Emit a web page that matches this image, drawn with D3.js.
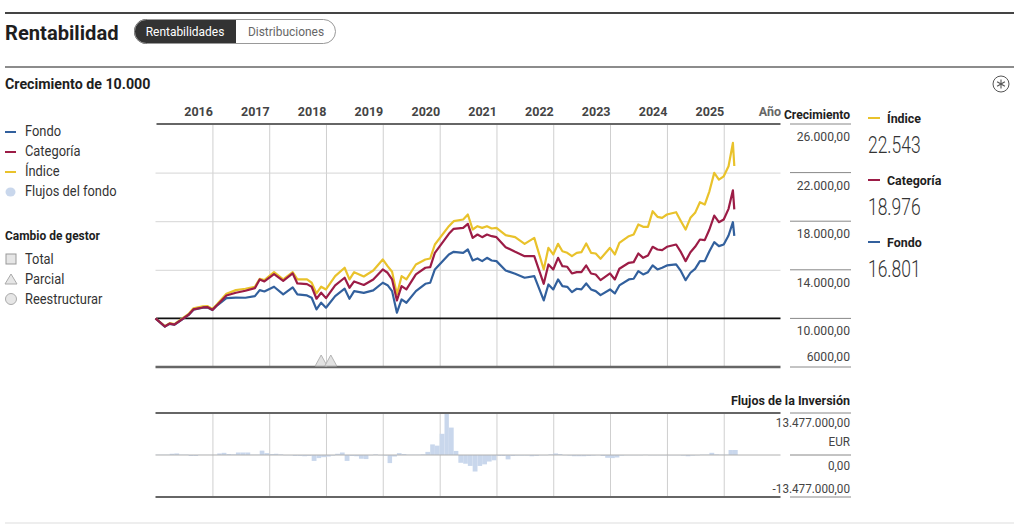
<!DOCTYPE html>
<html>
<head>
<meta charset="utf-8">
<script src="https://cdn.jsdelivr.net/npm/d3@7"></script>
<style>
  body { margin: 0; background: #fff; }
  svg text { font-family: Roboto, "Noto Sans", sans-serif; }
</style>
</head>
<body>
<svg id="chart" width="1024" height="529"></svg>
<script>
// ---- data ----
const months = [
  "2016-01","2016-03","2016-04","2016-05","2016-06","2016-08","2016-09","2016-11","2016-12",
  "2017-01","2017-02","2017-04","2017-06","2017-08","2017-10","2017-11","2017-12",
  "2018-02","2018-04","2018-06","2018-07","2018-09","2018-10","2018-11","2018-12",
  "2019-01","2019-03","2019-05","2019-06","2019-07","2019-09","2019-11",
  "2020-01","2020-02","2020-03","2020-04","2020-05","2020-06","2020-08","2020-10","2020-11","2020-12",
  "2021-03","2021-04","2021-06","2021-07","2021-08","2021-09","2021-10","2021-11","2021-12",
  "2022-01","2022-03","2022-05","2022-07","2022-09","2022-11","2022-12",
  "2023-01","2023-02","2023-03","2023-04","2023-05","2023-06","2023-07","2023-08","2023-09","2023-10","2023-11",
  "2024-01","2024-02","2024-03","2024-05","2024-06","2024-07","2024-08","2024-09","2024-10","2024-11","2024-12",
  "2025-01","2025-03","2025-04","2025-05","2025-06","2025-07","2025-08","2025-09","2025-10","2025-11","2025-12",
  "2026-01","2026-02","2026-03","2026-03-10"
];

const indice = [
  10000, 9360, 9610, 9530, 9810, 10370, 10830, 10990, 11010,
  10770, 11190, 12030, 12326, 12441, 12606, 13263, 13148,
  13806, 13206, 13806, 13206, 13206, 12935, 12055, 12606,
  12384, 13477, 14167, 13206, 13806, 13450, 13946,
  14850, 14300, 13839, 11973, 13477, 13206, 14439, 14850, 14932, 16083,
  17590, 18000, 18138, 18549, 17316, 17590, 17453, 17590, 17398,
  17453, 16850, 16686, 16138, 16630, 14028, 15809,
  15261, 16138, 15532, 15398, 15124, 15398, 15450, 16165, 15398, 15343, 14907,
  15809, 15261, 16220, 16768, 16905, 17727, 17538, 17538, 18820, 18360, 18278,
  18549, 18738, 18000, 17316, 18278, 18688, 19560, 19371, 20464, 21977, 21426,
  21696, 22519, 24442, 22543
];

const categoria = [
  10000, 9330, 9570, 9490, 9760, 10300, 10740, 10900, 10920,
  10700, 11100, 11890, 12113, 12277, 12490, 13206, 13041,
  13641, 13096, 13699, 12877, 12820, 12606, 11619, 12113,
  11669, 12713, 13345, 12523, 13041, 12750, 13206,
  14028, 13756, 13206, 11480, 12658, 12384, 13617, 14167, 14220, 15398,
  16960, 17373, 17455, 17784, 16630, 16905, 16686, 16905, 16768,
  16686, 15864, 15480, 15124, 15124, 12850, 14439,
  14028, 14987, 14300, 14250, 13699, 13806, 13806, 14357, 13699, 13617, 13148,
  13699, 13206, 14083, 14577, 14632, 15343, 14987, 15179, 15894, 15672, 15617,
  15894, 16083, 15450, 14713, 15450, 15894, 16494, 16439, 17316, 18467, 17918,
  18138, 19017, 20546, 18976
];

const fondo = [
  10000, 9320, 9555, 9480, 9745, 10285, 10720, 10880, 10900,
  10690, 11080, 11669, 11702, 11700, 11833, 12326, 12219,
  12606, 11973, 12548, 11973, 11891, 11702, 10740, 11290,
  10880, 11833, 12441, 11619, 12244, 12100, 12302,
  12935, 12737, 12244, 10466, 11562, 11290, 12244, 12850, 12935, 14028,
  15261, 15480, 15398, 15672, 14768, 14932, 14713, 14987, 14768,
  14713, 13946, 13672, 13345, 13477, 11480, 12795,
  12384, 13206, 12658, 12600, 12163, 12441, 12384, 12877, 12384, 12244, 11915,
  12384, 12055, 12713, 13206, 13263, 13888, 13617, 13806, 14357, 14028, 14167,
  14357, 14439, 13888, 13148, 13756, 14083, 14713, 14713, 15532, 16275, 15946,
  16083, 16823, 17918, 16801
];

// monthly fund flows, millions of EUR, starting 2016-01
const flowStart = "2016-01";
const flows = [
  0.1, 0.1, 0.1, 0.4, 0.5, 0.1, 0.1, -0.3, -0.3, 0.05, 0.05, 0.05,
  0.05, 0.5, 0.7, 0.3, 0.2, 0.8, 0.8, 0.8, 0.1, 0.1, 1.4, 0.6,
  0.3, 0.4, 0.2, -0.1, -0.1, -0.3, -0.3, -0.4, -0.3, -1.9, -1.0, -0.7,
  -0.5, -0.2, 0.4, 0.8, -1.9, -0.3, -0.4, -1.2, -1.3, -0.1, 0.2, -0.1,
  -0.2, -2.6, -0.5, 0.6, 0.3, 0.1, 0.1, 0.1, 0.2, 1.0, 3.4, 3.0,
  6.8, 13.477, 8.8, 1.3, -2.5, -2.8, -3.5, -5.3, -3.5, -3.0, -2.1, -1.7,
  -0.3, -0.3, -1.4, -0.3, -0.2, -0.2, -0.2, -0.4, -0.3, -0.1, -0.1, 0.2,
  0.5, 0.3, -0.1, -0.2, -0.4, -0.4, -0.4, -0.3, -0.2, -0.1, -0.3, -0.9,
  -1.0, -0.8, -0.2, -0.1, -0.1, -0.1, -0.1, 0.05, -0.1, -0.1, -0.1, -0.1,
  -0.1, -0.1, -0.1, -0.2, -0.4, -0.2, -0.1, 0.1, 0.1, 0.7, 0.2, 0.1,
  0.1, 1.6, 1.6
];
const flowMax = 13.477;

const managerChanges = ["2018-12", "2019-02"];
const years = [2016, 2017, 2018, 2019, 2020, 2021, 2022, 2023, 2024, 2025];
const yTicks = [26000, 22000, 18000, 14000, 10000, 6000];
const yTickLabels = ["26.000,00", "22.000,00", "18.000,00", "14.000,00", "10.000,00", "6000,00"];
const flowLabels = ["13.477.000,00", "EUR", "0,00", "-13.477.000,00"];

const colors = { indice: "#e9c22b", categoria: "#9c1c46", fondo: "#32609d", flujos: "#c9d7ec" };

// ---- helpers ----
const parseMonth = d3.timeParse("%Y-%m");
const parseDay = d3.timeParse("%Y-%m-%d");
const parseDate = s => parseDay(s) || parseMonth(s);
const es = d3.formatLocale({ decimal: ",", thousands: ".", grouping: [3], currency: ["", "€"] });
const fmtInt = es.format(",.0f");

const svg = d3.select("#chart");

function label(g, x, y, str, o = {}) {
  const t = g.append("text")
    .attr("x", x).attr("y", y)
    .attr("font-size", o.size || 13)
    .attr("font-weight", o.weight || 400)
    .attr("fill", o.fill || "#333")
    .attr("text-anchor", o.anchor || "start")
    .text(str);
  if (o.sx) {
    t.attr("x", 0).attr("y", 0).attr("transform", `translate(${x},${y}) scale(${o.sx},1)`);
  }
  return t;
}

// ---- header ----
svg.append("line").attr("x1", 5).attr("x2", 1014).attr("y1", 13).attr("y2", 13)
  .attr("stroke", "#444").attr("stroke-width", 2);
label(svg, 5, 40, "Rentabilidad", { size: 21, weight: 700, fill: "#1e1e1e", sx: 0.96 });

const pill = svg.append("g");
svg.append("clipPath").attr("id", "pillClip")
  .append("rect").attr("x", 134).attr("y", 19).attr("width", 202).attr("height", 25).attr("rx", 12.5);
pill.append("rect").attr("x", 134).attr("y", 19).attr("width", 102).attr("height", 25)
  .attr("fill", "#333").attr("clip-path", "url(#pillClip)");
pill.append("rect").attr("x", 134.5).attr("y", 19.5).attr("width", 201).attr("height", 24).attr("rx", 12)
  .attr("fill", "none").attr("stroke", "#999");
label(pill, 185, 36, "Rentabilidades", { size: 13, fill: "#fff", anchor: "middle", sx: 0.92 });
label(pill, 286, 36, "Distribuciones", { size: 13, fill: "#666", anchor: "middle", sx: 0.92 });

svg.append("line").attr("x1", 5).attr("x2", 1014).attr("y1", 67).attr("y2", 67)
  .attr("stroke", "#666").attr("stroke-width", 1.5);
label(svg, 5, 89, "Crecimiento de 10.000", { size: 15, weight: 700, fill: "#1e1e1e", sx: 0.95 });

// settings icon
const icon = svg.append("g").attr("transform", "translate(1001,84)");
icon.append("circle").attr("r", 8).attr("fill", "none").attr("stroke", "#555").attr("stroke-width", 1);
[0, 60, 120].forEach(a => {
  icon.append("line").attr("x1", 0).attr("x2", 0).attr("y1", -4.5).attr("y2", 4.5)
    .attr("stroke", "#555").attr("stroke-width", 1.1).attr("transform", `rotate(${a})`);
});

// ---- main chart ----
const plotTop = 124, plotBottom = 367, plotLeft = 155.5, plotRight = 780.5;
const x = d3.scaleTime()
  .domain([new Date(2016, 0, 1), new Date(2027, 0, 1)])
  .range([plotLeft, plotRight]);
const y = d3.scaleLinear().domain([6000, 26000]).range([plotBottom, plotTop]);

const gridDates = years.map(yr => new Date(yr + 1, 0, 1));

// vertical grid
svg.append("g")
  .attr("transform", `translate(0,${plotBottom})`)
  .call(d3.axisBottom(x).tickValues(gridDates).tickSize(-(plotBottom - plotTop)).tickFormat(""))
  .call(g => g.select(".domain").remove())
  .call(g => g.selectAll("line").attr("stroke", "#cfcfcf"));

// horizontal grid
svg.append("g")
  .attr("transform", `translate(${plotLeft},0)`)
  .call(d3.axisLeft(y).tickValues([22000, 18000, 14000]).tickSize(-(plotRight - plotLeft)).tickFormat(""))
  .call(g => g.select(".domain").remove())
  .call(g => g.selectAll("line").attr("stroke", "#d6d6d6"));

// year labels along the top, right aligned at the end of each year
svg.append("g")
  .attr("transform", `translate(0,${plotTop - 5})`)
  .call(d3.axisTop(x)
    .tickValues(gridDates.concat([new Date(2027, 0, 1)]))
    .tickSize(0)
    .tickFormat(d => d.getFullYear() === 2027 ? "Año" : String(d.getFullYear() - 1)))
  .call(g => g.select(".domain").remove())
  .call(g => g.selectAll("text")
    .attr("text-anchor", "end")
    .attr("dy", 0)
    .attr("font-size", 12.5)
    .attr("font-weight", 700)
    .attr("font-family", "Roboto, sans-serif")
    .attr("fill", (d) => d.getFullYear() === 2027 ? "#666" : "#444"));

// frame lines
svg.append("line").attr("x1", plotLeft + 1).attr("x2", plotRight).attr("y1", plotTop).attr("y2", plotTop)
  .attr("stroke", "#666").attr("stroke-width", 2);
svg.append("line").attr("x1", plotLeft).attr("x2", plotRight).attr("y1", plotBottom).attr("y2", plotBottom)
  .attr("stroke", "#666").attr("stroke-width", 2.5);
svg.append("line").attr("x1", plotLeft + 1).attr("x2", plotRight).attr("y1", y(10000)).attr("y2", y(10000))
  .attr("stroke", "#111").attr("stroke-width", 1.6);

// series lines (category drawn last, it sits on top where the lines meet)
const series = [
  { key: "indice", values: indice },
  { key: "fondo", values: fondo },
  { key: "categoria", values: categoria }
];
const line = d3.line().x(d => x(d.date)).y(d => y(d.v));
series.forEach(s => {
  const pts = months.map((m, i) => ({ date: parseDate(m), v: s.values[i] }));
  svg.append("path")
    .datum(pts)
    .attr("d", line)
    .attr("fill", "none")
    .attr("stroke", colors[s.key])
    .attr("stroke-width", 2.2)
    .attr("stroke-linejoin", "round");
});

// manager change markers (partial)
svg.selectAll(".mgr")
  .data(managerChanges)
  .enter()
  .append("path")
  .attr("class", "mgr")
  .attr("d", d => {
    const cx = x(parseDate(d));
    return `M${cx - 6},${plotBottom - 1} L${cx},${plotBottom - 12} L${cx + 6},${plotBottom - 1} Z`;
  })
  .attr("fill", "#e2e2e2")
  .attr("stroke", "#b5b5b5")
  .attr("stroke-width", 1);

// right value axis
const axR = svg.append("g");
yTicks.forEach((t, i) => {
  axR.append("line").attr("x1", 790).attr("x2", 851).attr("y1", y(t)).attr("y2", y(t))
    .attr("stroke", "#888").attr("stroke-width", 1);
  const last = i === yTicks.length - 1;
  label(axR, 850, last ? y(t) - 6 : y(t) + 17, yTickLabels[i], { size: 13.5, fill: "#444", anchor: "end", sx: 0.9 });
});
label(svg, 850, 119, "Crecimiento", { size: 12.5, weight: 700, fill: "#1e1e1e", anchor: "end", sx: 0.97 });

// ---- flows chart ----
const fTop = 413, fBottom = 497;
const yF = d3.scaleLinear().domain([-flowMax, flowMax]).range([fBottom, fTop]);
const fStart = parseDate(flowStart);

svg.append("g")
  .attr("transform", `translate(0,${fBottom})`)
  .call(d3.axisBottom(x).tickValues(gridDates).tickSize(-(fBottom - fTop)).tickFormat(""))
  .call(g => g.select(".domain").remove())
  .call(g => g.selectAll("line").attr("stroke", "#cfcfcf"));

svg.selectAll(".flow")
  .data(flows)
  .enter()
  .append("rect")
  .attr("class", "flow")
  .attr("x", (d, i) => x(d3.timeMonth.offset(fStart, i)))
  .attr("width", (d, i) => x(d3.timeMonth.offset(fStart, i + 1)) - x(d3.timeMonth.offset(fStart, i)))
  .attr("y", d => yF(Math.max(0, d)))
  .attr("height", d => Math.abs(yF(d) - yF(0)))
  .attr("fill", colors.flujos);

svg.append("line").attr("x1", plotLeft).attr("x2", plotRight).attr("y1", yF(0)).attr("y2", yF(0))
  .attr("stroke", "#b0b0b0").attr("stroke-width", 1);
svg.append("line").attr("x1", plotLeft).attr("x2", plotRight).attr("y1", fTop).attr("y2", fTop)
  .attr("stroke", "#666").attr("stroke-width", 2);
svg.append("line").attr("x1", plotLeft).attr("x2", plotRight).attr("y1", fBottom).attr("y2", fBottom)
  .attr("stroke", "#666").attr("stroke-width", 2);

[fTop, yF(0), fBottom].forEach(v => {
  svg.append("line").attr("x1", 790).attr("x2", 851).attr("y1", v).attr("y2", v)
    .attr("stroke", "#888").attr("stroke-width", 1);
});
label(svg, 850, 405, "Flujos de la Inversión", { size: 12.5, weight: 700, fill: "#1e1e1e", anchor: "end" });
[427, 446, 470, 493].forEach((yy, i) => {
  label(svg, 850, yy, flowLabels[i], { size: 13, fill: "#444", anchor: "end", sx: 0.9 });
});

// ---- left legend ----
const legL = svg.append("g");
const seriesLegend = [
  { name: "Fondo", color: colors.fondo },
  { name: "Categoría", color: colors.categoria },
  { name: "Índice", color: colors.indice }
];
seriesLegend.forEach((s, i) => {
  const cy = 131 + i * 20;
  legL.append("line").attr("x1", 5).attr("x2", 16).attr("y1", cy + 1).attr("y2", cy + 1)
    .attr("stroke", s.color).attr("stroke-width", 2);
  label(legL, 25, cy + 5, s.name, { size: 14, fill: "#333", sx: 0.92 });
});
legL.append("ellipse").attr("cx", 10.5).attr("cy", 192).attr("rx", 5).attr("ry", 4.5).attr("fill", colors.flujos);
label(legL, 25, 196, "Flujos del fondo", { size: 14, fill: "#333", sx: 0.92 });

label(legL, 5, 240, "Cambio de gestor", { size: 13, weight: 700, fill: "#1e1e1e", sx: 0.92 });
legL.append("rect").attr("x", 6).attr("y", 254).attr("width", 10).attr("height", 10)
  .attr("fill", "#e6e6e6").attr("stroke", "#999");
label(legL, 25, 264, "Total", { size: 14, fill: "#333", sx: 0.92 });
legL.append("path").attr("d", "M5,284 L11,274 L17,284 Z").attr("fill", "#e6e6e6").attr("stroke", "#aaa");
label(legL, 25, 284, "Parcial", { size: 14, fill: "#333", sx: 0.92 });
legL.append("circle").attr("cx", 11).attr("cy", 299).attr("r", 5.5).attr("fill", "#e6e6e6").attr("stroke", "#aaa");
label(legL, 25, 304, "Reestructurar", { size: 14, fill: "#333", sx: 0.92 });

// ---- right legend with last values ----
const legR = svg.append("g");
const lastItems = [
  { name: "Índice", color: colors.indice, values: indice },
  { name: "Categoría", color: colors.categoria, values: categoria },
  { name: "Fondo", color: colors.fondo, values: fondo }
];
lastItems.forEach((s, i) => {
  const yy = 118 + i * 62;
  legR.append("line").attr("x1", 868).attr("x2", 880).attr("y1", yy).attr("y2", yy)
    .attr("stroke", s.color).attr("stroke-width", 2);
  label(legR, 887, yy + 5, s.name, { size: 13.5, weight: 700, fill: "#1e1e1e", sx: 0.92 });
  label(legR, 868, yy + 35, fmtInt(s.values[s.values.length - 1]), { size: 23, weight: 300, fill: "#333", sx: 0.76 });
});

// bottom rule
svg.append("line").attr("x1", 5).attr("x2", 1014).attr("y1", 523).attr("y2", 523)
  .attr("stroke", "#ddd").attr("stroke-width", 1);
</script>
</body>
</html>
